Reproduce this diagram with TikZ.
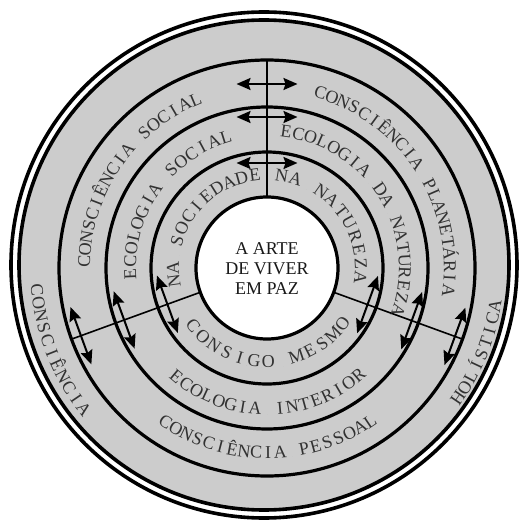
\documentclass[tikz,border=0pt]{standalone}
\usepackage{fontspec}
\setmainfont{Liberation Serif}
\usepackage{tikz}
\usetikzlibrary{arrows.meta}
\definecolor{ringgray}{RGB}{204,204,204}
\definecolor{txt}{RGB}{50,50,50}
\newcommand{\ringfont}{\fontsize{18}{20}\selectfont}
\newcommand{\ringfontb}{\fontsize{18.1}{20}\selectfont}
\tikzset{
  rim/.style={draw=black, line width=3.6pt},
  ring/.style={draw=black, line width=3.2pt},
  spoke/.style={draw=black, line width=1.6pt},
  dblarrow/.style={{Stealth[length=14pt,width=12pt,inset=2pt]}-{Stealth[length=14pt,width=12pt,inset=2pt]}, line width=2pt},
  ringchar/.style={anchor=base, inner sep=0pt, outer sep=0pt, text=txt, font=\ringfont},
}
% text set letter by letter on an arc: radius, start angle, end angle,
% direction (-1 clockwise, 1 counterclockwise), text (~ for spaces)
\makeatletter
\newlength\rtwidth
\newlength\rtpos
\newlength\rtchar
\newif\ifrtalt
\newcommand\arctext[5]{%
  \setlength\rtwidth{0pt}%
  \def\rtcount{0}%
  \@tfor\rtc:=#5\do{%
    \settowidth\rtchar{\ringfont\rtc}%
    \addtolength\rtwidth{\rtchar}%
    \pgfmathtruncatemacro\rtcount{\rtcount+1}}%
  \pgfmathsetmacro\rtgap{(abs((#3)-(#2))/180*pi*(#1)-\the\rtwidth)/(\rtcount-1)}%
  \setlength\rtpos{0pt}%
  \rtaltfalse
  \@tfor\rtc:=#5\do{%
    \settowidth\rtchar{\ringfont\rtc}%
    \pgfmathsetmacro\rtang{(#2)+(#4)*(\the\rtpos+0.5*\the\rtchar)/(#1)*180/pi}%
    \pgfmathsetmacro\rtrot{\rtang+(#4)*90}%
    \ifrtalt\let\rtfont\ringfontb\else\let\rtfont\ringfont\fi
    \node[ringchar, font=\rtfont, rotate=\rtrot] at (\rtang:#1) {\rule{0.01pt}{0.01pt}\rtc};
    \ifrtalt\rtaltfalse\else\rtalttrue\fi
    \addtolength\rtpos{\rtchar}%
    \addtolength\rtpos{\rtgap pt}}%
}
\makeatother

\begin{document}
\begin{tikzpicture}[x=1pt, y=1pt]
  \useasboundingbox (-267,-256) rectangle (256,268);
  \coordinate (ctr) at (0,0);
  \coordinate (rimc) at (-3,3);
  % outer double rim
  \draw[rim] (rimc) circle[radius=253pt];
  \draw[rim, fill=ringgray] (rimc) circle[radius=245pt];
  \foreach \r in {208,161,116}
    \draw[ring] (ctr) circle[radius=\r pt];
  % spokes
  \foreach \a in {90,200,340}
    \draw[spoke] (\a:71) -- (\a:208);
  \draw[ring, fill=white] (ctr) circle[radius=71pt];
  % double arrows across the rings
  \foreach \a/\r in {90/105,90/151,90/184,200/106,200/152,200/198,340/107,340/154,340/200}
    \draw[dblarrow, rotate=\a] (\r,-30.5) -- (\r,30.5);
  \node[align=center, font=\ringfont, text=black!90] (paz) at (0,-1) {A ARTE\\DE VIVER\\EM PAZ};

  % upper texts (clockwise)
  \arctext{88}{188}{97.5}{-1}{NA~SOCIEDADE}
  \arctext{88}{81}{-6}{-1}{NA~NATUREZA}
  \arctext{131}{182.5}{107.5}{-1}{ECOLOGIA~SOCIAL}
  \arctext{132}{82}{-17.8}{-1}{ECOLOGIA~DA~NATUREZA}
  \arctext{177}{178}{113}{-1}{CONSCIÊNCIA~SOCIAL}
  \arctext{177}{73}{-7}{-1}{CONSCIÊNCIA~PLANETÁRIA}
  % lower texts (counterclockwise)
  \arctext{99.5}{218}{323.7}{1}{CONSIGO~MESMO}
  \arctext{147}{230}{310.5}{1}{ECOLOGIA~INTERIOR}
  \arctext{190.5}{236.7}{304}{1}{CONSCIÊNCIA~PESSOAL}
  \arctext{237}{185.5}{217.5}{1}{CONSCIÊNCIA}
  \arctext{237}{-34.3}{-9.5}{1}{HOLÍSTICA}
\end{tikzpicture}
\end{document}
